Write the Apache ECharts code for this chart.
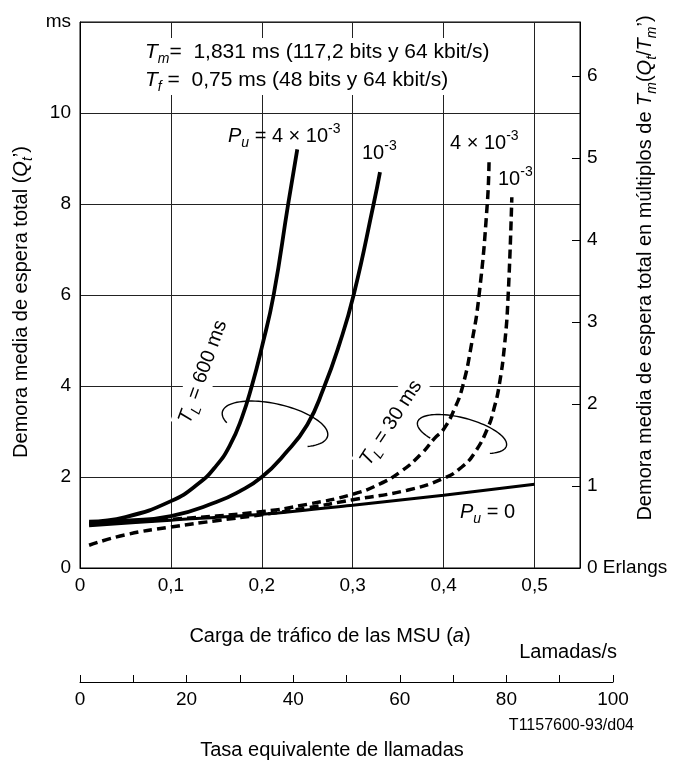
<!DOCTYPE html>
<html>
<head>
<meta charset="utf-8">
<script src="https://cdn.jsdelivr.net/npm/echarts@6/dist/echarts.min.js"></script>
<style>
html, body { margin: 0; padding: 0; background: #fff; }
#chart { width: 683px; height: 764px; }
</style>
</head>
<body>
<div id="chart"></div>
<script>
var FONT = '"Liberation Sans", Arial, Helvetica, sans-serif';

// carga de tráfico (Erlangs) -> demora media (ms)
var solid4Load  = [0.01, 0.05, 0.10, 0.13, 0.15, 0.165, 0.178, 0.189, 0.200, 0.213, 0.229, 0.239];
var solid4Delay = [1.02, 1.12, 1.47, 1.85, 2.25, 2.70, 3.30, 4.00, 4.85, 6.00, 8.00, 9.20];

var solid1Load  = [0.01, 0.05, 0.10, 0.15, 0.175, 0.20, 0.225, 0.25, 0.268, 0.285, 0.301, 0.323, 0.330];
var solid1Delay = [0.98, 1.04, 1.14, 1.45, 1.68, 2.00, 2.50, 3.15, 3.95, 4.90, 6.00, 8.00, 8.70];

var dash4Load  = [0.01, 0.10, 0.20, 0.25, 0.30, 0.33, 0.353, 0.375, 0.39, 0.40, 0.412, 0.421, 0.4305, 0.439, 0.448, 0.450];
var dash4Delay = [0.97, 1.07, 1.24, 1.40, 1.62, 1.85, 2.12, 2.50, 2.85, 3.05, 3.50, 4.00, 4.90, 6.00, 8.00, 9.00];

var dash1Load  = [0.01, 0.05, 0.10, 0.15, 0.20, 0.25, 0.30, 0.36, 0.40, 0.42, 0.434, 0.449, 0.456, 0.461, 0.467, 0.471, 0.475];
var dash1Delay = [0.50, 0.73, 0.90, 1.04, 1.17, 1.32, 1.50, 1.71, 1.97, 2.22, 2.53, 3.10, 3.55, 4.00, 4.90, 6.00, 8.15];

var zeroLoad  = [0.01, 0.10, 0.20, 0.30, 0.40, 0.50];
var zeroDelay = [0.93, 1.05, 1.18, 1.38, 1.60, 1.84];

function zip(xs, ys) {
	var out = [];
	for (var i = 0; i < xs.length; i++) {
		out.push([xs[i], ys[i]]);
	}
	return out;
}

function fmtComma(v) {
	if (v === 0) return '0';
	return v.toFixed(1).replace('.', ',');
}

var rich = {
	n:   { fontFamily: FONT, fontSize: 20, lineHeight: 28, color: '#000' },
	i:   { fontFamily: FONT, fontSize: 20, fontStyle: 'italic', lineHeight: 28, color: '#000' },
	sub: { fontFamily: FONT, fontSize: 14, fontStyle: 'italic', lineHeight: 14, verticalAlign: 'bottom', color: '#000' },
	sup: { fontFamily: FONT, fontSize: 14, lineHeight: 14, verticalAlign: 'top', color: '#000' },
	nb:  { fontFamily: FONT, fontSize: 21, lineHeight: 28, color: '#000' },
	ib:  { fontFamily: FONT, fontSize: 21, fontStyle: 'italic', lineHeight: 28, color: '#000' }
};

function txt(x, y, text, opts) {
	opts = opts || {};
	return {
		type: 'text', x: x, y: y, z: 50,
		rotation: (opts.rot || 0) * Math.PI / 180,
		style: {
			text: text, rich: rich,
			fontFamily: FONT, fontSize: opts.size || 20, fill: '#000',
			align: opts.align || 'left', verticalAlign: 'middle',
			backgroundColor: opts.bg || null, padding: opts.bg ? [0, 3] : 0
		}
	};
}

function lasso(cx, cy, rx, ry, rotDeg, a0, a1) {
	var pts = [], t = rotDeg * Math.PI / 180;
	for (var a = a0; a <= a1; a += 4) {
		var r = a * Math.PI / 180, ex = rx * Math.cos(r), ey = ry * Math.sin(r);
		pts.push([cx + ex * Math.cos(t) - ey * Math.sin(t), cy + ex * Math.sin(t) + ey * Math.cos(t)]);
	}
	return { type: 'polyline', z: 50, shape: { points: pts }, style: { stroke: '#000', lineWidth: 1.4, fill: null } };
}

var chart = echarts.init(document.getElementById('chart'));

var solidStyle = { color: '#000', width: 3.8 };
var dashStyle = { color: '#000', width: 3.5, type: [9, 5] };

var option = {
	animation: false,
	backgroundColor: '#fff',
	textStyle: { fontFamily: FONT, color: '#000' },
	grid: [
		{ left: 80, right: 103, top: 22, bottom: 196, show: true, borderColor: '#000', borderWidth: 1 },
		{ left: 80, width: 533, top: 672, height: 10 }
	],
	xAxis: [
		{
			type: 'value', gridIndex: 0, min: 0, max: 0.55, interval: 0.1,
			axisLine: { lineStyle: { color: '#000', width: 1 } },
			axisTick: { show: false },
			splitLine: { show: true, lineStyle: { color: '#222', width: 1 } },
			axisLabel: {
				fontSize: 19, color: '#000', fontFamily: FONT, margin: 8,
				formatter: function (v) { return v > 0.51 ? '' : fmtComma(v); }
			}
		},
		{
			type: 'value', gridIndex: 1, min: 0, max: 100, interval: 10,
			axisLine: { onZero: false, lineStyle: { color: '#000', width: 1 } },
			axisTick: { inside: true, length: 7, lineStyle: { color: '#000' } },
			splitLine: { show: false },
			axisLabel: {
				fontSize: 19, color: '#000', fontFamily: FONT, margin: 8,
				formatter: function (v) { return v % 20 === 0 ? String(v) : ''; }
			}
		}
	],
	yAxis: [
		{
			type: 'value', gridIndex: 0, min: 0, max: 12, interval: 2,
			axisLine: { lineStyle: { color: '#000', width: 1 } },
			axisTick: { show: false },
			splitLine: { show: true, lineStyle: { color: '#222', width: 1 } },
			axisLabel: {
				fontSize: 19, color: '#000', fontFamily: FONT, margin: 9,
				formatter: function (v) { return v === 12 ? 'ms' : String(v); }
			}
		},
		{
			type: 'value', gridIndex: 0, position: 'right', min: 0, max: 6.66, interval: 1,
			axisLine: { show: true, lineStyle: { color: '#000', width: 1 } },
			axisTick: { show: true, inside: true, length: 8, lineStyle: { color: '#000' } },
			splitLine: { show: false },
			axisLabel: {
				fontSize: 19, color: '#000', fontFamily: FONT, margin: 7, showMaxLabel: false,
				formatter: function (v) { return v === 0 ? '0 Erlangs' : (v > 6.5 ? '' : String(v)); }
			}
		},
		{ type: 'value', gridIndex: 1, show: false, min: 0, max: 1 }
	],
	series: [
		{ type: 'line', data: zip(zeroLoad, zeroDelay), smooth: 0.3, symbol: 'none', lineStyle: { color: '#000', width: 3 }, z: 3 },
		{ type: 'line', data: zip(dash1Load, dash1Delay), smooth: 0.5, symbol: 'none', lineStyle: dashStyle, z: 4 },
		{ type: 'line', data: zip(dash4Load, dash4Delay), smooth: 0.5, symbol: 'none', lineStyle: dashStyle, z: 4 },
		{ type: 'line', data: zip(solid1Load, solid1Delay), smooth: 0.5, symbol: 'none', lineStyle: solidStyle, z: 5 },
		{ type: 'line', data: zip(solid4Load, solid4Delay), smooth: 0.5, symbol: 'none', lineStyle: solidStyle, z: 5 },
		{ type: 'line', xAxisIndex: 1, yAxisIndex: 2, data: [], symbol: 'none' }
	],
	graphic: [
		{ type: 'rect', z: 40, shape: { x: 140, y: 38, width: 368, height: 57 }, style: { fill: '#fff' } },
		txt(145, 52, '{ib|T}{sub|m}{nb|=  1,831 ms (117,2 bits y 64 kbit/s)}'),
		txt(145, 80, '{ib|T}{sub|f}{nb| =  0,75 ms (48 bits y 64 kbit/s)}'),
		txt(228, 136, '{i|P}{sub|u}{n| = 4 × 10}{sup|-3}'),
		txt(362, 153, '{n|10}{sup|-3}'),
		txt(450, 143, '{n|4 × 10}{sup|-3}'),
		txt(498, 179, '{n|10}{sup|-3}'),
		txt(460, 512, '{i|P}{sub|u}{n| = 0}'),
		txt(203, 372, '{i|T}{sub|L}{n| = 600 ms}', { rot: 70, align: 'center', bg: '#fff' }),
		txt(391, 423, '{i|T}{sub|L}{n| = 30 ms}', { rot: 57, align: 'center', bg: '#fff' }),
		lasso(275, 424, 54, 20, 13, 151, 409),
		lasso(462, 434, 46, 16, 15, 130, 408),
		txt(21, 302, '{n|Demora media de espera total (}{i|Q}{sub|t}{n|\u2019)}', { rot: 90, align: 'center' }),
		txt(645, 268, '{n|Demora media de espera total en múltiplos de }{i|T}{sub|m}{n|(}{i|Q}{sub|t}{n|/}{i|T}{sub|m}{n|\u2019)}', { rot: 90, align: 'center' }),
		txt(330, 636, '{n|Carga de tráfico de las MSU (}{i|a}{n|)}', { align: 'center' }),
		txt(617, 652, 'Lamadas/s', { align: 'right' }),
		txt(634, 726, 'T1157600-93/d04', { align: 'right', size: 16 }),
		txt(332, 750, 'Tasa equivalente de llamadas', { align: 'center' })
	]
};

chart.setOption(option);
</script>
</body>
</html>
